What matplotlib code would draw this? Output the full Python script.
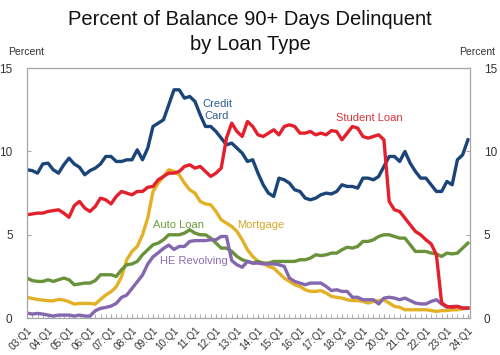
import numpy as np
import matplotlib
matplotlib.use("Agg")
from matplotlib import pyplot as plt
from matplotlib.ticker import MultipleLocator

plt.rcParams['font.family'] = ['Liberation Sans', 'DejaVu Sans']

# quarterly, 2003:Q1 .. 2024:Q1
years = list(range(3, 25))
tick_labels = ["%02d:Q1" % y for y in years]

credit_card = [8.9, 8.85, 8.7, 9.25, 9.3, 8.9, 8.7, 9.2, 9.6, 9.25, 9.05, 8.6, 8.85, 9.0, 9.25,
               9.7, 9.7, 9.4, 9.4, 9.5, 9.5, 10.1, 9.5, 10.2, 11.5, 11.7, 11.9, 12.8, 13.7,
               13.7, 13.2, 13.3, 13.0, 12.2, 11.5, 11.5, 11.2, 10.8, 10.4, 10.5, 10.2, 9.9, 9.4,
               9.5, 8.7, 8.0, 7.5, 7.3, 8.4, 8.3, 8.1, 7.7, 7.6, 7.2, 7.1, 7.2,
               7.4, 7.5, 7.45, 7.6, 8.0, 7.9, 7.9, 7.8, 8.4, 8.4, 8.3, 8.5, 9.1, 9.7, 9.7,
               9.4, 10.0, 9.3, 8.8, 8.4, 8.4, 8.0, 7.6, 7.6, 8.2, 8.0, 9.5, 9.8, 10.7]

student_loan = [6.2, 6.25, 6.3, 6.3, 6.4, 6.45, 6.5, 6.3, 6.05, 6.75, 7.0, 6.6, 6.4, 6.7, 7.2,
                7.1, 6.85, 7.3, 7.6, 7.5, 7.4, 7.6, 7.6, 7.85, 7.9, 8.3, 8.5, 8.7, 8.7,
                8.8, 9.1, 9.2, 9.0, 9.1, 8.8, 8.5, 8.7, 9.0, 10.8, 11.7, 11.2, 10.9, 11.8,
                11.5, 11.0, 10.9, 11.1, 11.3, 11.0, 11.5, 11.6, 11.5, 11.1, 11.1, 11.2, 11.0,
                11.1, 11.0, 11.25, 11.2, 10.7, 11.1, 11.5, 11.4, 10.9, 10.8, 10.9, 11.0, 10.7,
                7.0, 6.5, 6.4, 6.0, 5.6, 5.2, 5.0, 4.7, 4.45, 3.8, 0.9, 0.7, 0.65, 0.7, 0.6, 0.6]

mortgage = [1.24, 1.18, 1.12, 1.08, 1.04, 1.04, 1.12, 1.08, 0.98, 0.84, 0.88, 0.88, 0.88, 0.84,
            1.12, 1.38, 1.58, 1.88, 2.48, 3.5, 4.0, 4.3, 5.0, 6.0, 7.6, 8.1, 8.5, 8.9, 8.8,
            8.6, 8.1, 7.7, 7.5, 7.0, 6.85, 6.8, 6.4, 5.9, 5.7, 5.5, 5.2, 4.7, 4.1, 3.7, 3.4,
            3.3, 3.1, 3.0, 2.7, 2.4, 2.2, 2.0, 1.9, 1.7, 1.6, 1.6,
            1.65, 1.5, 1.3, 1.25, 1.2, 1.1, 1.05, 1.05, 1.0, 0.9, 1.0, 1.05, 1.1, 0.9, 0.7,
            0.65, 0.5, 0.5, 0.5, 0.5, 0.5, 0.45, 0.4, 0.45, 0.45, 0.5, 0.5, 0.55, 0.6]

auto_loan = [2.4, 2.25, 2.2, 2.2, 2.3, 2.2, 2.3, 2.4, 2.3, 2.0, 2.05, 2.1, 2.1, 2.25, 2.6, 2.6,
             2.6, 2.5, 2.9, 3.2, 3.25, 3.4, 3.8, 4.1, 4.4, 4.5, 4.7, 5.0, 5.0,
             5.0, 5.1, 5.3, 5.1, 5.0, 5.0, 4.8, 4.5, 4.2, 4.2, 4.0, 3.7, 3.5, 3.4, 3.3, 3.4,
             3.3, 3.3, 3.4, 3.4, 3.4, 3.4, 3.4, 3.5, 3.5, 3.6, 3.8,
             3.75, 3.8, 3.9, 3.9, 4.1, 4.25, 4.2, 4.3, 4.6, 4.6, 4.7, 4.9, 5.0, 5.0, 4.9,
             4.8, 4.8, 4.4, 4.0, 4.0, 4.0, 3.9, 3.85, 3.7, 3.9, 3.85, 3.9, 4.2, 4.5]

he_revolving = [0.3, 0.24, 0.28, 0.24, 0.18, 0.12, 0.18, 0.18, 0.18, 0.12, 0.18, 0.12, 0.12,
                0.44, 0.58, 0.64, 0.72, 0.88, 1.24, 1.38, 1.78, 2.18, 2.58, 3.24, 3.68, 3.92,
                4.18, 4.38, 4.12,
                4.3, 4.3, 4.6, 4.65, 4.65, 4.65, 4.7, 4.7, 4.9, 4.9, 3.45, 3.2, 3.05, 3.4, 3.3,
                3.3, 3.25, 3.25, 3.25, 3.2, 3.1, 2.4, 2.2, 2.1, 2.0, 2.1, 2.1,
                2.1, 1.9, 1.65, 1.7, 1.6, 1.6, 1.25, 1.25, 1.1, 1.1, 1.1, 0.85, 1.2, 1.25, 1.2,
                1.1, 1.2, 1.05, 0.9, 0.85, 0.85, 1.0, 1.1, 0.85, 0.65, 0.7, 0.7, 0.6, 0.6]

blue = '#1B4478'
red = '#E3202B'
gold = '#E2B125'
green = '#69923A'
purple = '#8467AE'

x = np.arange(len(credit_card))

fig = plt.figure(figsize=(5, 3.55), dpi=100)
ax = fig.add_axes([0.053, 0.104, 0.887, 0.704])

lw = 2.4
ax.plot(x, mortgage, color=gold, lw=lw)
ax.plot(x, auto_loan, color=green, lw=lw)
ax.plot(x, he_revolving, color=purple, lw=lw)
ax.plot(x, credit_card, color=blue, lw=lw)
ax.plot(x, student_loan, color=red, lw=lw)

# series labels
ax.text(36.2, 12.5, "Credit\nCard", color='#2E5C8F', fontsize=8, ha='center', va='center',
        linespacing=1.2)
ax.text(65.3, 12.0, "Student Loan", color='#D5333B', fontsize=8, ha='center', va='center')
ax.text(28.8, 5.6, "Auto Loan", color='#6F9A40', fontsize=8, ha='center', va='center')
ax.text(31.8, 3.45, "HE Revolving", color='#8A6DB0', fontsize=8, ha='center', va='center')
ax.text(44.6, 5.6, "Mortgage", color='#D6A82A', fontsize=8, ha='center', va='center')

ax.set_xlim(-0.1, 84.4)
ax.set_ylim(0, 15)
ax.set_yticks([0, 5, 10, 15])
ax.set_xticks(x[::4])
ax.set_xticklabels(tick_labels, rotation=45, ha='right', rotation_mode='anchor',
                   fontsize=7.3, color='#333333')
ax.xaxis.set_minor_locator(MultipleLocator(1))

for s in ax.spines.values():
    s.set_color('#A6A6A6')
    s.set_linewidth(0.9)

ax.tick_params(axis='x', which='both', direction='in', length=3, color='#A6A6A6', pad=5)
ax.tick_params(axis='y', direction='in', length=3, color='#A6A6A6', left=True, right=True,
               labelleft=True, labelright=True, labelsize=8.5, labelcolor='#333333', pad=10)

fig.text(0.5, 0.945, "Percent of Balance 90+ Days Delinquent", ha='center', va='center',
         fontsize=14.5, color='#111111')
fig.text(0.5, 0.875, "by Loan Type", ha='center', va='center', fontsize=14.5, color='#111111')
fig.text(0.016, 0.853, "Percent", ha='left', va='center', fontsize=7.5, color='#333333')
fig.text(0.99, 0.853, "Percent", ha='right', va='center', fontsize=7.5, color='#333333')

fig.savefig("out.png", dpi=100)
